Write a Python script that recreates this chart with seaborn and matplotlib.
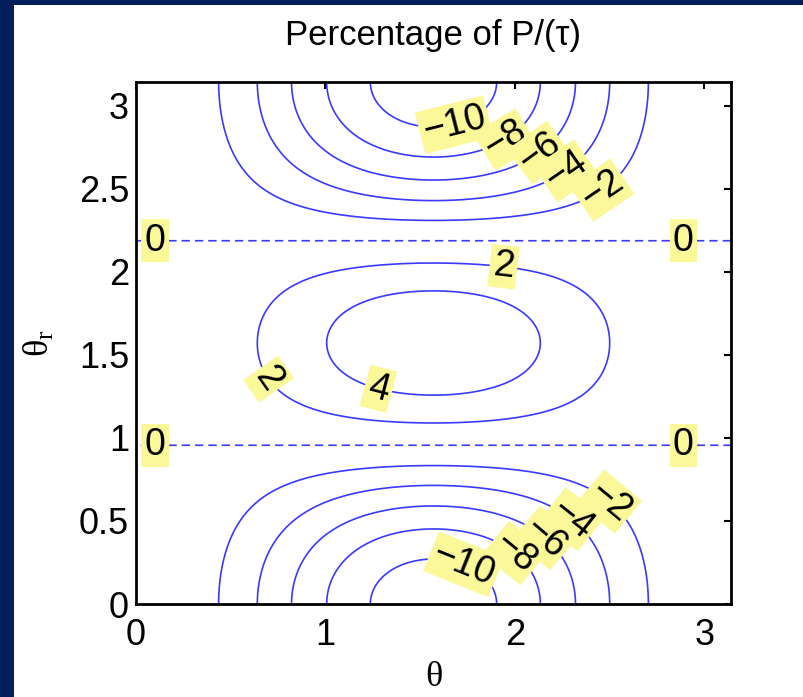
import numpy as np
import matplotlib
matplotlib.use("Agg")
import matplotlib.pyplot as plt
from matplotlib.patches import Rectangle
import seaborn as sns

# ---- data ----
title = "Percentage of P/(\u03c4)"
xlabel = "\u03b8"
ylabel = r"$\mathregular{\theta_r}$"
levels = [-10, -8, -6, -4, -2, 0, 2, 4]
amplitude = 5.6          # peak of the field at theta_r = pi/2, theta = pi/2
theta = np.linspace(0, np.pi, 400)
theta_r = np.linspace(0, np.pi, 400)
xticks = [0, 1, 2, 3]
yticks = [0, 0.5, 1, 1.5, 2, 2.5, 3]
ytick_labels = ["0", "0.5", "1", "1.5", "2", "2.5", "3"]

# label placement (layout): level, theta position, upper/lower branch
label_specs = [(-10, 1.68, "top"), (-8, 1.95, "top"), (-6, 2.13, "top"),
               (-4, 2.27, "top"), (-2, 2.46, "top"),
               (0, 0.10, "top"), (0, 2.89, "top"), (2, 1.94, "top"),
               (2, 0.70, "bot"), (4, 1.28, "bot"),
               (0, 0.10, "bot"), (0, 2.89, "bot"),
               (-2, 2.50, "bot"), (-4, 2.30, "bot"), (-6, 2.16, "bot"),
               (-8, 2.00, "bot"), (-10, 1.73, "bot")]

sns.set_theme(style="white")
plt.rcParams["font.family"] = ["Liberation Sans", "DejaVu Sans"]


def field(t, tr):
    return -amplitude * (3 * np.cos(tr) ** 2 - 1) * np.sin(t) ** 2


T, TR = np.meshgrid(theta, theta_r)
Z = field(T, TR)


def on_contour(level, x, side):
    c2 = (1 - level / (amplitude * np.sin(x) ** 2)) / 3
    y = np.arccos(np.sqrt(np.clip(c2, 0, 1)))
    return (x, np.pi - y) if side == "top" else (x, y)


label_pos = [on_contour(*s) for s in label_specs]

fig = plt.figure(figsize=(8.04, 6.97), dpi=100)
fig.patch.set_facecolor("white")
ax = fig.add_axes([136 / 804, 1 - 604 / 697, 595 / 804, 522 / 697])

styles = [(0, (5, 3)) if lv == 0 else "solid" for lv in levels]
cs = ax.contour(T, TR, Z, levels=levels, colors="#3a3aff", linewidths=1.2,
                linestyles=styles)
labels = ax.clabel(cs, levels, inline=True, fontsize=27, fmt="%d",
                   manual=label_pos, inline_spacing=3)
for t in labels:
    t.set_text(t.get_text().replace("-", "\u2212"))
    t.set_bbox(dict(facecolor="#fbf89a", edgecolor="none", pad=2.5))
    t.set_color("black")

ax.set_xlim(0, np.pi)
ax.set_ylim(0, np.pi)
ax.set_xticks(xticks)
ax.set_xticklabels([str(v) for v in xticks])
ax.set_yticks(yticks)
ax.set_yticklabels(ytick_labels)
ax.tick_params(direction="in", length=5, width=1.5, top=True, right=True,
               labelsize=26, colors="black")
ax.tick_params(axis="x", pad=10)
ax.tick_params(axis="y", pad=5)
for s in ax.spines.values():
    s.set_visible(True)
    s.set_color("black")
    s.set_linewidth(2.0)
ax.grid(False)

ax.set_title(title, fontsize=25, pad=27, color="black")
ax.set_xlabel(xlabel, fontsize=26, family=["Liberation Serif", "DejaVu Serif"],
              labelpad=6, color="black")
ax.set_ylabel(ylabel, fontsize=26, family=["Liberation Serif", "DejaVu Serif"],
              labelpad=16, color="black")

# navy presentation border
navy = "#021f5c"
fig.patches.append(Rectangle((0, 0), 14 / 804, 1, transform=fig.transFigure,
                             facecolor=navy, edgecolor="none", zorder=10))
fig.patches.append(Rectangle((0, 1 - 5 / 697), 1, 5 / 697, transform=fig.transFigure,
                             facecolor=navy, edgecolor="none", zorder=10))

fig.savefig("out.png", dpi=100, facecolor="white")
